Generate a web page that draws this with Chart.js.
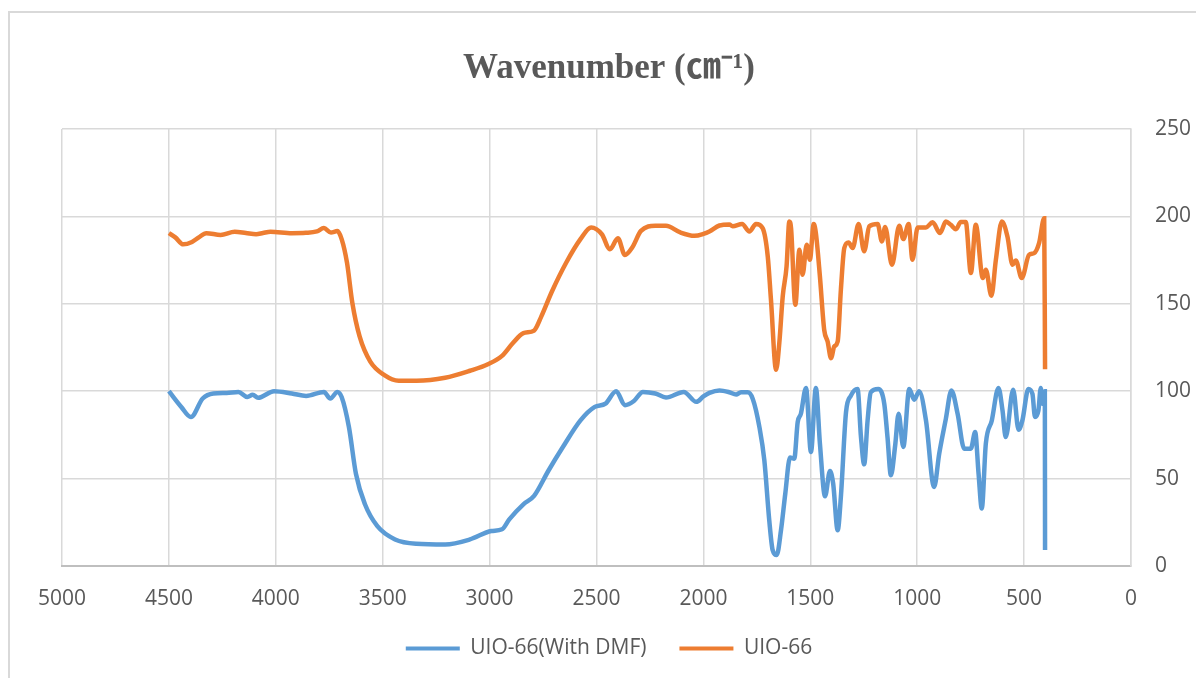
<!DOCTYPE html>
<html>
<head>
<meta charset="utf-8">
<script src="https://cdn.jsdelivr.net/npm/chart.js@4.4.1/dist/chart.umd.min.js"></script>
<style>
  html, body { margin: 0; padding: 0; background: #ffffff; overflow: hidden; }
  #wrap { position: relative; width: 1196px; height: 678px; }
  #frame { position: absolute; left: 8px; top: 11px; width: 1300px; height: 800px;
           border-top: 2px solid #d9d9d9; border-left: 2px solid #d9d9d9; box-sizing: border-box; }
  canvas { position: absolute; left: 0; top: 0; }
</style>
</head>
<body>
<div id="wrap">
  <div id="frame"></div>
  <canvas id="c" width="1196" height="678"></canvas>
</div>
<script>
// ---- Data ----
const titleText = 'Wavenumber (\u339D\u207B\u00B9)';
const seriesNames = ['UIO-66(With DMF)', 'UIO-66'];
const xTicks = [5000, 4500, 4000, 3500, 3000, 2500, 2000, 1500, 1000, 500, 0];
const yTicks = [0, 50, 100, 150, 200, 250];

const dmfWavenumber = [4500,4442,4397,4342,4292,4230,4175,4133,4108,4083,4008,3925,3858,3775,3745,3712,3692,3658,3625,3583,3525,3442,3342,3208,3092,2992,2942,2908,2842,2792,2725,2658,2575,2508,2458,2408,2367,2325,2283,2225,2175,2092,2033,2000,1972,1925,1879,1847,1824,1793,1769,1738,1715,1692,1676,1657,1637,1617,1595,1575,1559,1544,1520,1497,1474,1455,1431,1408,1393,1372,1357,1333,1310,1279,1263,1248,1232,1217,1182,1154,1139,1123,1103,1087,1065,1037,1014,991,959,921,897,866,840,811,780,749,729,713,698,679,651,620,601,586,551,526,508,480,461,449,433,422,414,403,402];
const dmfValue = [100,91,85.2,95.8,98.7,99,99.6,96.7,98,96.2,100,98.7,97.3,99.6,95.8,99.6,96.7,79.5,52.6,35.3,22.8,15.2,12.7,12.3,15.2,20,21,26.7,35.3,40.1,54.5,67.9,83.3,91,92.9,100,92,94.4,99.6,98.7,96.4,99.6,93.9,97,99,100.4,99.4,98.1,99.4,99.4,95.6,79.5,60.5,26.2,9.1,6.3,20.5,41.4,62,61.4,82.3,87.1,101.9,65.2,101.9,70,39.9,54.4,47.1,20.5,39.5,88,97.5,101.3,73.8,58.2,83.3,99.4,101.3,92.8,73.8,51.9,69,87.1,68.1,101.3,95.1,100,83.3,45.2,64.3,84.2,100.4,87.1,67.1,67.1,76.6,52.9,32.9,70,83.3,101.9,89,73.8,100.8,77.9,83.3,101.3,98.5,85.2,89,101.9,92.8,100,9.1];

const uioWavenumber = [4500,4470,4433,4392,4360,4325,4258,4192,4140,4092,4060,4025,3925,3860,3808,3775,3742,3712,3692,3667,3642,3608,3558,3492,3425,3342,3208,3092,3008,2942,2892,2842,2792,2758,2708,2642,2575,2525,2475,2437,2400,2367,2333,2292,2225,2175,2108,2042,2000,1972,1925,1879,1863,1819,1785,1754,1723,1699,1684,1660,1645,1629,1611,1598,1590,1570,1551,1536,1517,1502,1484,1474,1455,1435,1419,1403,1388,1372,1357,1341,1321,1302,1274,1248,1224,1185,1165,1150,1118,1084,1065,1040,1022,998,959,928,893,866,843,819,796,773,749,726,693,679,653,632,604,578,554,539,511,477,453,430,406,402];
const uioValue = [190.4,188,184,185.4,188,190.4,189.4,191.2,190.5,189.8,190.5,191.2,190.4,190.6,191.4,193.3,190.8,191.6,187,173.5,150.5,131.3,116.9,109.2,106,106,107.7,111.7,115.4,120.2,127.4,133.2,134.7,142.8,157.2,173.5,187,193.7,189.8,181.2,187.5,177.9,182.2,191.7,194.6,194.6,190.8,188.9,190,191.4,194.8,195.4,194.3,195.6,191.4,195.6,193.3,177.1,152.3,112.2,127.5,154.2,171.4,197.1,193.3,149.4,180.9,166.6,183.8,175.2,195.6,190.5,165.6,135.1,128.4,118.9,125.6,128.4,158,181.9,185.1,181.9,195.6,180,194.3,195.6,185.7,193.9,172.3,194.7,187,195.6,175.2,193.7,193.7,196.6,190.5,197.1,195.2,192.7,196.8,196.8,167.6,195.2,164.7,169.5,154.6,175.2,197.1,188.5,172.3,174.8,164.7,178,179,184.7,199,112.6];

const seriesColors = ['#5B9BD5', '#ED7D31'];

function toPoints(xs, ys) { return xs.map((x, i) => ({ x: x, y: ys[i] })); }

const textColor = '#595959';
const gridColor = '#d9d9d9';
const tickFont = { family: "'Open Sans', sans-serif", size: 21 };

new Chart(document.getElementById('c'), {
  type: 'line',
  data: {
    datasets: [
      { label: seriesNames[0], data: toPoints(dmfWavenumber, dmfValue),
        borderColor: seriesColors[0], backgroundColor: seriesColors[0],
        borderWidth: 4.5, pointRadius: 0, cubicInterpolationMode: 'monotone', fill: false },
      { label: seriesNames[1], data: toPoints(uioWavenumber, uioValue),
        borderColor: seriesColors[1], backgroundColor: seriesColors[1],
        borderWidth: 4.5, pointRadius: 0, cubicInterpolationMode: 'monotone', fill: false }
    ]
  },
  options: {
    responsive: false,
    animation: false,
    events: [],
    layout: { padding: { left: 22, right: 0, top: 0, bottom: 9 } },
    plugins: {
      tooltip: { enabled: false },
      title: {
        display: true,
        text: titleText,
        color: textColor,
        font: { family: "'Liberation Serif', 'Noto Sans CJK SC', serif", size: 35, weight: 'bold' },
        padding: { top: 47.5, bottom: 39.5 }
      },
      legend: {
        position: 'bottom',
        labels: {
          color: textColor,
          font: { family: "'Open Sans', sans-serif", size: 21 },
          boxWidth: 54,
          boxHeight: 4,
          padding: 33,
          generateLabels: function (chart) {
            return chart.data.datasets.map((ds, i) => ({
              text: ds.label, fillStyle: ds.borderColor, strokeStyle: ds.borderColor,
              lineWidth: 0, hidden: false, datasetIndex: i, fontColor: textColor
            }));
          }
        }
      }
    },
    scales: {
      x: {
        type: 'linear',
        reverse: true,
        min: 0, max: 5000,
        afterBuildTicks: function (scale) { scale.ticks = xTicks.map(v => ({ value: v })); },
        afterFit: function (scale) { scale.height = 39; },
        ticks: { color: textColor, font: tickFont, padding: 20, maxRotation: 0, autoSkip: false,
                 callback: function (v) { return String(v); } },
        grid: { color: gridColor, lineWidth: 1.5, drawTicks: false },
        border: { color: '#bfbfbf', width: 2 }
      },
      y: {
        position: 'right',
        min: 0, max: 250,
        afterBuildTicks: function (scale) { scale.ticks = yTicks.map(v => ({ value: v })); },
        afterFit: function (scale) { scale.width = 65; },
        ticks: { color: textColor, font: tickFont, padding: 24,
                 callback: function (v) { return String(v); } },
        grid: { color: gridColor, lineWidth: 1.5, drawTicks: false },
        border: { color: gridColor, width: 1.5 }
      },
      spacer: {
        position: 'left',
        display: true,
        min: 0, max: 1,
        afterFit: function (scale) { scale.width = 40; },
        ticks: { display: false },
        grid: { display: false, drawTicks: false },
        border: { display: false }
      }
    }
  }
});
</script>
</body>
</html>
